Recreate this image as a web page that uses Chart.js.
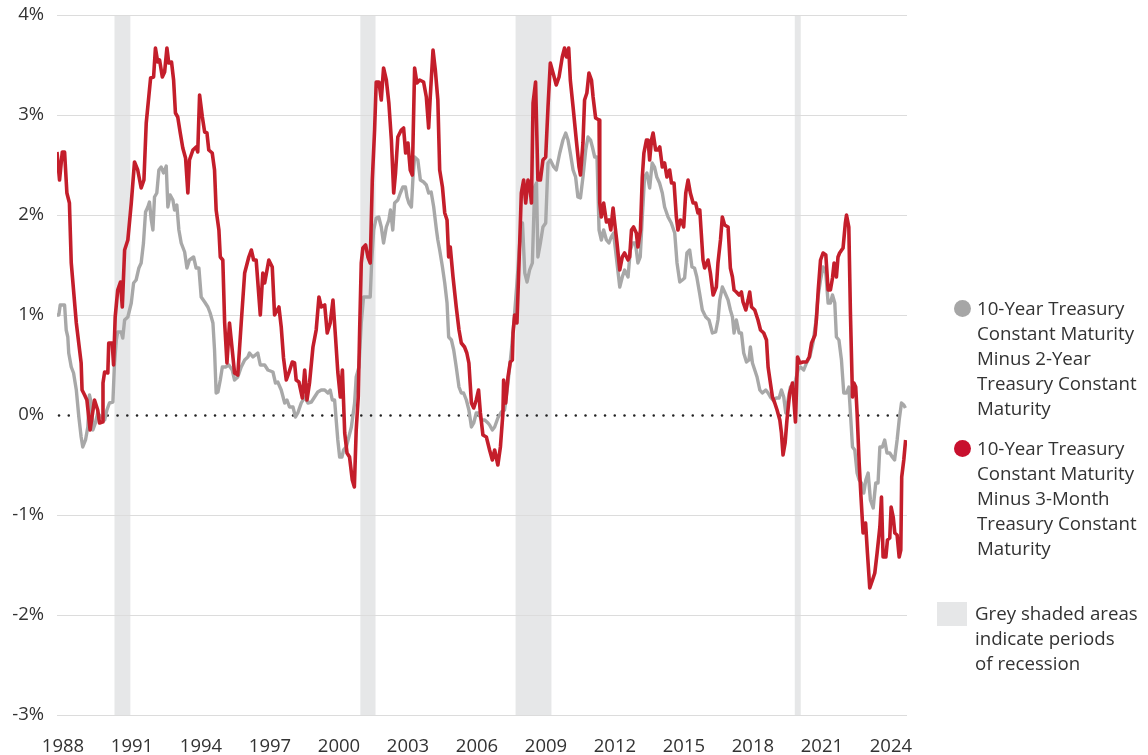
<!DOCTYPE html>
<html><head><meta charset="utf-8">
<script src="https://cdn.jsdelivr.net/npm/chart.js@4/dist/chart.umd.min.js"></script>
<style>
html,body{margin:0;padding:0;background:#fff;}
#wrap{position:relative;width:1148px;height:755px;overflow:hidden;}
#c{position:absolute;left:0;top:0;}
.leg{position:absolute;font-family:"Open Sans",sans-serif;font-size:18.7px;line-height:25px;color:#333;white-space:nowrap;}
.dot{position:absolute;width:17px;height:17px;border-radius:50%;}
.box{position:absolute;width:30px;height:24px;background:#e6e7e8;}
</style></head><body>
<div id="wrap">
<canvas id="c" width="1148" height="755"></canvas>
<div class="dot" style="left:954px;top:300px;background:#a6a6a6"></div>
<div class="leg" style="left:977px;top:295px;">10-Year Treasury<br>Constant Maturity<br>Minus 2-Year<br>Treasury Constant<br>Maturity</div>
<div class="dot" style="left:954px;top:440px;background:#c8102e"></div>
<div class="leg" style="left:977px;top:435px;">10-Year Treasury<br>Constant Maturity<br>Minus 3-Month<br>Treasury Constant<br>Maturity</div>
<div class="box" style="left:937px;top:602px;"></div>
<div class="leg" style="left:975px;top:600px;">Grey shaded areas<br>indicate periods<br>of recession</div>
</div>
<script>
// Tick labels (years) and recession periods (decimal years)
const tickYears = [1988,1991,1994,1997,2000,2003,2006,2009,2012,2015,2018,2021,2024];
const recessionStart = [1990.50, 2001.19, 2007.94, 2020.08];
const recessionEnd   = [1991.19, 2001.85, 2009.50, 2020.34];

// 10-Year minus 2-Year spread (%)
const spread2yDates = [1988.0,1988.08,1988.14,1988.33,1988.4,1988.47,1988.51,1988.62,1988.72,1988.84,1988.95,1989.05,1989.12,1989.24,1989.34,1989.41,1989.49,1989.56,1989.67,1989.77,1989.92,1990.07,1990.17,1990.28,1990.43,1990.5,1990.58,1990.64,1990.79,1990.86,1990.94,1991.08,1991.23,1991.33,1991.44,1991.56,1991.66,1991.76,1991.85,1991.95,1992.02,1992.1,1992.17,1992.24,1992.34,1992.43,1992.53,1992.63,1992.75,1992.82,1992.92,1993.04,1993.11,1993.21,1993.3,1993.4,1993.55,1993.65,1993.76,1993.94,1994.05,1994.17,1994.27,1994.42,1994.56,1994.66,1994.78,1994.85,1994.92,1995.0,1995.1,1995.19,1995.33,1995.47,1995.62,1995.72,1995.86,1996.01,1996.16,1996.3,1996.37,1996.52,1996.73,1996.84,1997.03,1997.17,1997.39,1997.5,1997.6,1997.75,1997.9,1998.0,1998.11,1998.26,1998.37,1998.47,1998.62,1998.77,1998.91,1999.06,1999.2,1999.34,1999.49,1999.64,1999.78,1999.88,1999.97,2000.07,2000.14,2000.21,2000.29,2000.39,2000.46,2000.58,2000.69,2000.8,2000.94,2001.01,2001.13,2001.23,2001.33,2001.62,2001.68,2001.77,2001.88,2001.99,2002.1,2002.2,2002.32,2002.43,2002.5,2002.6,2002.68,2002.82,2002.93,2003.04,2003.15,2003.22,2003.3,2003.41,2003.48,2003.55,2003.69,2003.8,2003.94,2004.06,2004.16,2004.27,2004.38,2004.5,2004.56,2004.64,2004.76,2004.86,2004.96,2005.03,2005.15,2005.25,2005.36,2005.48,2005.58,2005.68,2005.8,2005.91,2006.02,2006.12,2006.23,2006.34,2006.45,2006.6,2006.74,2006.81,2006.93,2007.03,2007.17,2007.32,2007.46,2007.61,2007.76,2007.9,2008.0,2008.12,2008.24,2008.34,2008.44,2008.55,2008.67,2008.77,2008.85,2008.91,2009.02,2009.13,2009.25,2009.35,2009.45,2009.6,2009.71,2009.86,2010.0,2010.12,2010.22,2010.32,2010.44,2010.55,2010.65,2010.76,2010.87,2010.99,2011.09,2011.2,2011.28,2011.38,2011.48,2011.57,2011.67,2011.77,2011.89,2012.0,2012.1,2012.2,2012.32,2012.47,2012.58,2012.68,2012.83,2012.93,2013.04,2013.15,2013.26,2013.36,2013.45,2013.55,2013.65,2013.77,2013.88,2013.98,2014.08,2014.2,2014.32,2014.42,2014.57,2014.71,2014.86,2014.96,2015.08,2015.19,2015.29,2015.39,2015.51,2015.61,2015.72,2015.82,2015.94,2016.06,2016.21,2016.35,2016.5,2016.64,2016.74,2016.82,2016.93,2017.03,2017.18,2017.28,2017.37,2017.44,2017.54,2017.66,2017.76,2017.86,2017.98,2018.09,2018.15,2018.24,2018.34,2018.44,2018.56,2018.67,2018.82,2018.92,2019.02,2019.14,2019.28,2019.4,2019.5,2019.6,2019.69,2019.79,2019.89,2020.01,2020.12,2020.22,2020.33,2020.47,2020.59,2020.73,2020.87,2020.99,2021.09,2021.2,2021.31,2021.43,2021.53,2021.63,2021.72,2021.82,2021.89,2022.0,2022.11,2022.21,2022.33,2022.43,2022.5,2022.59,2022.69,2022.79,2022.88,2022.98,2023.08,2023.17,2023.27,2023.37,2023.49,2023.6,2023.7,2023.78,2023.89,2023.99,2024.09,2024.21,2024.32,2024.42,2024.53,2024.62,2024.72,2024.82,2024.89];
const spread2yValues = [1.0,1.0,1.1,1.1,0.85,0.78,0.62,0.48,0.42,0.25,-0.02,-0.22,-0.32,-0.25,-0.12,0.2,0.12,-0.15,-0.08,0.02,-0.02,-0.05,0.05,0.12,0.13,0.52,0.75,0.83,0.83,0.77,0.95,0.98,1.12,1.32,1.35,1.47,1.52,1.72,2.03,2.08,2.13,1.95,1.85,2.18,2.22,2.45,2.48,2.42,2.49,2.08,2.2,2.15,2.05,2.1,1.85,1.72,1.63,1.47,1.55,1.58,1.47,1.47,1.18,1.13,1.08,1.02,0.92,0.65,0.22,0.23,0.35,0.48,0.48,0.5,0.45,0.35,0.38,0.48,0.55,0.58,0.62,0.58,0.62,0.5,0.5,0.45,0.43,0.32,0.33,0.25,0.12,0.15,0.08,0.08,-0.02,0.02,0.12,0.18,0.12,0.13,0.18,0.23,0.25,0.25,0.22,0.25,0.15,0.15,-0.05,-0.25,-0.42,-0.42,-0.35,-0.32,-0.22,-0.12,0.12,0.38,0.48,0.92,1.18,1.18,1.52,1.85,1.97,1.98,1.88,1.72,1.88,1.95,2.05,1.85,2.12,2.15,2.22,2.28,2.28,2.18,2.12,2.08,2.38,2.58,2.55,2.35,2.33,2.3,2.22,2.23,2.08,1.85,1.75,1.65,1.48,1.32,1.12,0.78,0.75,0.65,0.48,0.28,0.22,0.22,0.15,0.05,-0.12,-0.08,0.02,0.02,-0.05,-0.05,-0.08,-0.1,-0.15,-0.12,-0.03,0.03,0.05,0.32,0.65,1.02,1.32,1.72,1.92,1.42,1.33,1.45,1.52,2.28,2.32,1.58,1.72,1.88,1.92,2.52,2.55,2.48,2.45,2.62,2.75,2.82,2.75,2.62,2.45,2.38,2.18,2.17,2.38,2.65,2.78,2.75,2.68,2.58,2.58,1.85,1.75,1.85,1.75,1.72,1.78,1.82,1.58,1.28,1.38,1.45,1.38,1.65,1.72,1.72,1.52,1.58,1.98,2.38,2.42,2.27,2.52,2.48,2.38,2.32,2.22,2.08,1.98,1.92,1.82,1.52,1.33,1.35,1.37,1.62,1.65,1.48,1.47,1.38,1.22,1.05,0.98,0.95,0.82,0.83,0.95,1.15,1.28,1.23,1.15,1.05,0.98,0.82,0.95,0.82,0.82,0.62,0.53,0.55,0.68,0.52,0.45,0.38,0.25,0.22,0.25,0.22,0.18,0.15,0.17,0.17,0.25,0.18,0.02,0.15,0.28,0.28,0.35,0.45,0.48,0.45,0.52,0.58,0.72,0.92,1.18,1.35,1.48,1.42,1.12,1.12,1.2,1.12,0.78,0.75,0.55,0.22,0.22,0.28,0.02,-0.32,-0.35,-0.58,-0.65,-0.68,-0.78,-0.65,-0.58,-0.85,-0.93,-0.68,-0.68,-0.32,-0.32,-0.25,-0.38,-0.38,-0.42,-0.45,-0.25,-0.05,0.12,0.1,0.07];

// 10-Year minus 3-Month spread (%)
const spread3mDates = [1988.0,1988.11,1988.23,1988.33,1988.43,1988.54,1988.62,1988.84,1989.05,1989.09,1989.2,1989.3,1989.44,1989.63,1989.77,1989.85,1989.97,1990.0,1990.07,1990.21,1990.25,1990.4,1990.46,1990.53,1990.64,1990.76,1990.84,1990.94,1991.08,1991.23,1991.37,1991.51,1991.66,1991.78,1991.88,1991.99,1992.07,1992.2,1992.28,1992.38,1992.46,1992.58,1992.68,1992.78,1992.86,1992.98,1993.07,1993.15,1993.25,1993.36,1993.47,1993.59,1993.69,1993.76,1993.91,1994.05,1994.12,1994.2,1994.32,1994.42,1994.52,1994.6,1994.75,1994.85,1994.92,1995.04,1995.1,1995.21,1995.29,1995.39,1995.5,1995.62,1995.72,1995.86,1996.01,1996.16,1996.34,1996.45,1996.55,1996.66,1996.84,1996.95,1997.03,1997.21,1997.36,1997.46,1997.65,1997.75,1997.85,1997.97,1998.08,1998.23,1998.33,1998.4,1998.52,1998.67,1998.77,1998.87,1998.98,1999.13,1999.27,1999.39,1999.49,1999.64,1999.75,1999.88,2000.0,2000.11,2000.21,2000.32,2000.41,2000.51,2000.61,2000.72,2000.84,2000.93,2001.01,2001.1,2001.16,2001.23,2001.3,2001.42,2001.52,2001.62,2001.71,2001.81,2001.88,2002.0,2002.1,2002.2,2002.32,2002.43,2002.54,2002.64,2002.72,2002.82,2002.97,2003.07,2003.16,2003.26,2003.36,2003.45,2003.55,2003.65,2003.77,2003.94,2004.06,2004.16,2004.23,2004.35,2004.45,2004.56,2004.64,2004.76,2004.86,2004.96,2005.03,2005.1,2005.22,2005.36,2005.48,2005.58,2005.72,2005.82,2005.91,2006.02,2006.12,2006.23,2006.33,2006.41,2006.52,2006.67,2006.81,2006.93,2007.03,2007.17,2007.28,2007.39,2007.42,2007.51,2007.61,2007.71,2007.8,2007.83,2007.9,2008.0,2008.09,2008.19,2008.29,2008.38,2008.48,2008.55,2008.63,2008.7,2008.81,2008.91,2009.02,2009.13,2009.25,2009.35,2009.45,2009.57,2009.71,2009.83,2009.97,2010.07,2010.15,2010.25,2010.32,2010.44,2010.58,2010.7,2010.76,2010.87,2010.94,2011.04,2011.13,2011.24,2011.31,2011.42,2011.57,2011.6,2011.67,2011.77,2011.89,2012.0,2012.08,2012.18,2012.25,2012.35,2012.47,2012.58,2012.68,2012.83,2012.9,2012.98,2013.07,2013.19,2013.26,2013.37,2013.45,2013.52,2013.63,2013.7,2013.77,2013.85,2013.92,2014.03,2014.13,2014.21,2014.32,2014.42,2014.52,2014.64,2014.72,2014.83,2014.93,2015.0,2015.11,2015.19,2015.25,2015.34,2015.44,2015.54,2015.66,2015.77,2015.87,2015.95,2016.09,2016.16,2016.31,2016.41,2016.53,2016.67,2016.74,2016.85,2016.93,2017.03,2017.18,2017.28,2017.37,2017.44,2017.54,2017.66,2017.76,2017.83,2017.95,2018.05,2018.12,2018.2,2018.34,2018.48,2018.59,2018.73,2018.85,2018.92,2019.02,2019.11,2019.21,2019.31,2019.43,2019.5,2019.57,2019.66,2019.74,2019.86,2019.98,2020.04,2020.11,2020.2,2020.3,2020.44,2020.59,2020.71,2020.81,2020.96,2021.03,2021.1,2021.2,2021.31,2021.43,2021.53,2021.63,2021.72,2021.79,2021.89,2021.96,2022.03,2022.18,2022.28,2022.33,2022.43,2022.5,2022.59,2022.65,2022.73,2022.79,2022.88,2022.96,2023.05,2023.16,2023.24,2023.34,2023.46,2023.56,2023.66,2023.78,2023.85,2023.92,2024.04,2024.11,2024.21,2024.27,2024.36,2024.43,2024.53,2024.62,2024.69,2024.73,2024.82,2024.9];
const spread3mValues = [2.63,2.35,2.63,2.63,2.22,2.12,1.52,0.92,0.52,0.25,0.2,0.15,-0.15,0.15,0.05,-0.08,-0.07,0.32,0.43,0.42,0.72,0.72,0.5,0.98,1.25,1.33,1.08,1.65,1.75,2.12,2.53,2.45,2.27,2.35,2.92,3.18,3.37,3.38,3.67,3.53,3.55,3.38,3.43,3.67,3.52,3.53,3.35,3.02,2.98,2.82,2.67,2.57,2.22,2.55,2.65,2.68,2.63,3.2,2.98,2.83,2.82,2.65,2.62,2.45,2.05,1.85,1.58,1.55,0.92,0.52,0.92,0.65,0.42,0.4,0.92,1.42,1.58,1.65,1.55,1.55,1.0,1.42,1.32,1.55,1.48,1.0,1.08,0.88,0.57,0.35,0.42,0.53,0.52,0.35,0.33,0.17,0.45,0.15,0.32,0.68,0.85,1.18,1.08,1.1,0.82,0.92,1.15,0.78,0.43,0.18,0.45,-0.18,-0.38,-0.42,-0.65,-0.72,-0.15,0.18,0.85,1.52,1.67,1.7,1.58,1.52,2.35,2.85,3.33,3.33,3.15,3.47,3.35,3.12,2.75,2.22,2.42,2.78,2.85,2.87,2.62,2.72,2.45,2.4,3.47,3.32,3.35,3.33,3.18,2.87,3.18,3.65,3.45,3.15,2.45,2.28,2.02,1.95,1.58,1.68,1.38,1.08,0.85,0.72,0.68,0.62,0.52,0.12,0.07,0.15,0.25,0.02,-0.2,-0.22,-0.35,-0.45,-0.35,-0.5,-0.32,0.02,0.35,0.12,0.38,0.53,0.55,0.82,1.0,0.92,1.52,2.22,2.35,2.12,2.35,2.32,2.12,3.12,3.33,2.35,2.35,2.55,2.58,3.08,3.52,3.42,3.3,3.38,3.58,3.67,3.58,3.67,3.35,3.08,2.75,2.48,2.4,2.72,3.15,3.22,3.42,3.35,3.18,2.97,2.95,2.12,1.98,2.12,1.93,1.95,1.85,2.07,1.92,1.72,1.45,1.58,1.62,1.55,1.58,1.85,1.88,1.82,1.68,1.85,2.38,2.62,2.75,2.75,2.55,2.75,2.82,2.65,2.65,2.68,2.48,2.52,2.38,2.45,2.32,2.32,1.98,1.85,1.95,1.92,1.88,2.22,2.35,2.22,2.12,2.12,2.02,2.05,1.55,1.47,1.55,1.42,1.2,1.28,1.52,1.75,1.98,1.9,1.88,1.47,1.38,1.25,1.23,1.2,1.23,1.13,1.05,1.15,1.23,1.08,1.05,0.95,0.85,0.82,0.75,0.48,0.32,0.18,0.12,0.05,-0.05,-0.18,-0.4,-0.28,-0.05,0.22,0.32,0.15,-0.07,0.58,0.52,0.53,0.53,0.58,0.72,0.8,0.98,1.25,1.55,1.62,1.6,1.25,1.25,1.37,1.52,1.38,1.58,1.62,1.67,1.92,2.0,1.88,1.02,0.18,0.32,0.28,0.02,-0.48,-0.82,-1.18,-1.08,-1.38,-1.73,-1.65,-1.58,-1.38,-1.12,-0.82,-1.42,-1.42,-1.25,-1.23,-0.92,-1.02,-1.18,-1.2,-1.42,-1.35,-0.62,-0.45,-0.25];

const toPoints = (xs, ys) => xs.map((x, i) => ({x: x, y: ys[i]}));

const bgPlugin = {
  id: 'bands',
  beforeDraw(chart) {
    const {ctx, chartArea: a, scales: {x}} = chart;
    ctx.save();
    ctx.fillStyle = '#e6e7e8';
    for (let i = 0; i < recessionStart.length; i++) {
      const x0 = x.getPixelForValue(recessionStart[i]);
      const x1 = x.getPixelForValue(recessionEnd[i]);
      ctx.fillRect(x0, a.top, x1 - x0, a.bottom - a.top);
    }
    ctx.restore();
  },
  beforeDatasetsDraw(chart) {
    const {ctx, chartArea: a, scales: {y}} = chart;
    const y0 = Math.round(y.getPixelForValue(0)) + 0.5;
    ctx.save();
    ctx.fillStyle = '#222';
    for (let px = a.left + 2; px <= a.right; px += 9.75) {
      ctx.beginPath();
      ctx.arc(px, y0, 1.25, 0, Math.PI * 2);
      ctx.fill();
    }
    ctx.restore();
  }
};

new Chart(document.getElementById('c'), {
  type: 'line',
  data: {
    datasets: [
      {label: '10-Year Treasury Constant Maturity Minus 3-Month Treasury Constant Maturity',
       data: toPoints(spread3mDates, spread3mValues), borderColor: '#c41e2b', borderWidth: 3.6,
       pointRadius: 0, tension: 0, borderJoinStyle: 'round', order: 0},
      {label: '10-Year Treasury Constant Maturity Minus 2-Year Treasury Constant Maturity',
       data: toPoints(spread2yDates, spread2yValues), borderColor: '#a8a8a8', borderWidth: 3.4,
       pointRadius: 0, tension: 0, borderJoinStyle: 'round', order: 1}
    ]
  },
  options: {
    responsive: false,
    animation: false,
    layout: {padding: {left: 0, right: 241, top: 15, bottom: 0}},
    plugins: {legend: {display: false}, tooltip: {enabled: false}},
    scales: {
      x: {
        type: 'linear', min: 1988, max: 2024.96,
        afterBuildTicks: s => { s.ticks = tickYears.map(v => ({value: v})); },
        afterFit: s => { s.height = 40; s.paddingLeft = 0; s.paddingRight = 0; },
        grid: {display: false, drawTicks: false},
        border: {display: false},
        ticks: {callback: v => String(v), color: '#333', padding: 21, labelOffset: 6, maxRotation: 0, autoSkip: false,
                font: {family: 'Open Sans', size: 18.5}}
      },
      y: {
        min: -3, max: 4,
        afterFit: s => { s.width = 57; s.paddingTop = 0; s.paddingBottom = 0; },
        grid: {color: ctx => ctx.tick.value === 0 ? 'rgba(0,0,0,0)' : '#dcdcdc', lineWidth: 1, drawTicks: false},
        border: {display: false},
        ticks: {stepSize: 1, callback: v => v + '%', color: '#333', padding: 13,
                font: {family: 'Open Sans', size: 18.5}}
      }
    }
  },
  plugins: [bgPlugin]
});
</script>
</body></html>
